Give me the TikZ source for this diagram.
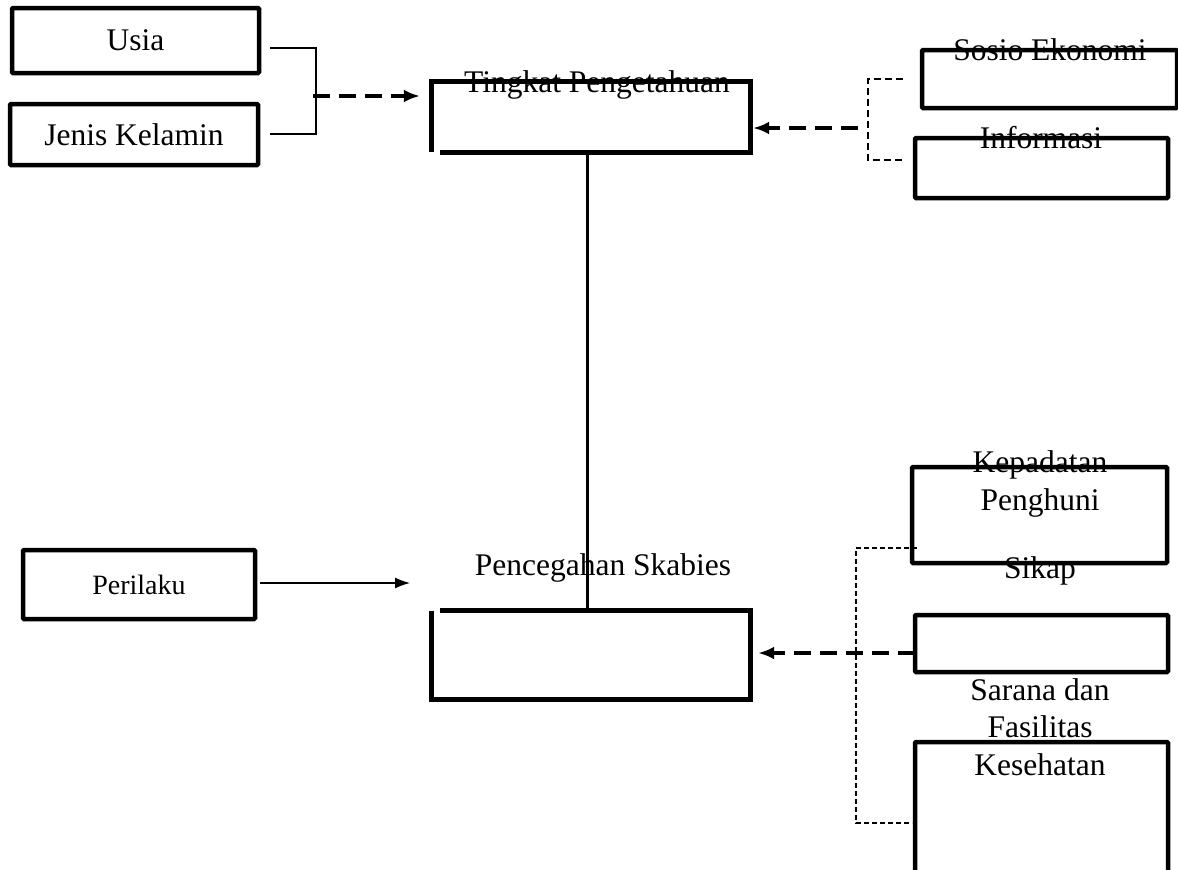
\documentclass[tikz,border=0pt]{standalone}
\usepackage{fontspec}
\setmainfont{Liberation Serif}
\usetikzlibrary{arrows.meta}
\tikzset{
  factor box/.style={draw, line width=4.5pt, rounded corners=1pt, inner sep=0pt},
  open box/.style={line width=5pt},
  label text/.style={anchor=base, inner sep=0pt, align=center,
    font=\fontsize{31.5}{37.5}\selectfont},
  brace line/.style={line width=1.4pt},
  brace dash/.style={line width=1.3pt, dash pattern=on 7pt off 4pt},
  link dash/.style={line width=3.5pt, dash pattern=on 17pt off 9pt,
    -{Latex[length=16pt,width=13pt]}},
  link solid/.style={line width=1.4pt, -{Latex[length=15pt,width=11pt]}}
}

\begin{document}
\begin{tikzpicture}[x=1pt, y=-1pt, line join=miter]
  \useasboundingbox (0,0) rectangle (1178,870);

  % Left factors of Tingkat Pengetahuan
  \node[factor box, minimum width=247pt, minimum height=65pt,
        font=\fontsize{31.5}{37.5}\selectfont] (usia) at (135.5,40.5) {Usia};
  \node[factor box, minimum width=248pt, minimum height=61pt,
        font=\fontsize{31.5}{37.5}\selectfont] (jenis) at (134,134.5) {Jenis Kelamin};

  % Tingkat Pengetahuan (open corner at bottom left)
  \node[minimum width=318pt, minimum height=70pt, inner sep=0pt] (tingkat) at (591,117) {};
  \draw[open box] (tingkat.south west) -- (tingkat.north west) -- (tingkat.north east)
    -- (tingkat.south east) -- ([xshift=8pt]tingkat.south west);
  \node[label text] (tingkatText) at (597,92) {Tingkat Pengetahuan};

  % Right factors of Tingkat Pengetahuan
  \node[factor box, minimum width=255pt, minimum height=58pt] (sosio) at (1049.5,79) {};
  \node[label text] (sosioText) at (1050,60) {Sosio Ekonomi};
  \node[factor box, minimum width=253pt, minimum height=60pt] (info) at (1041.5,168) {};
  \node[label text] (infoText) at (1041,148) {Informasi};

  % Perilaku
  \node[factor box, minimum width=232pt, minimum height=69pt,
        font=\fontsize{28}{33}\selectfont] (perilaku) at (139,584.5) {Perilaku};

  % Pencegahan Skabies (open corner at top left)
  \node[minimum width=318pt, minimum height=88pt, inner sep=0pt] (cegah) at (591,655) {};
  \draw[open box] ([xshift=8pt]cegah.north west) -- (cegah.north east) -- (cegah.south east)
    -- (cegah.south west) -- (cegah.north west);
  \node[label text] (cegahText) at (603,575) {Pencegahan Skabies};

  % Right factors of Pencegahan Skabies
  \node[factor box, minimum width=255pt, minimum height=96pt] (padat) at (1039.5,515) {};
  \node[label text] (padatText) at (1040,510) {Kepadatan\\Penghuni};
  \node[factor box, minimum width=253pt, minimum height=57pt] (sikap) at (1041.5,643.5) {};
  \node[label text] (sikapText) at (1040,578) {Sikap};
  \node[factor box, minimum width=253pt, minimum height=170pt] (sarana) at (1041.5,827) {};
  \node[label text] (saranaText) at (1040,775) {Sarana dan\\Fasilitas\\Kesehatan};

  % Brackets
  \coordinate (usiaEnd) at (270,48);
  \coordinate (jenisEnd) at (270,134);
  \coordinate (leftJoin) at (313,96);
  \draw[brace line] (usiaEnd) -- (316,48) -- (316,134) -- (jenisEnd);

  \coordinate (sosioEnd) at (903,79);
  \coordinate (infoEnd) at (903,160);
  \coordinate (rightJoin) at (858,128);
  \draw[brace dash] (sosioEnd) -- (868,79) -- (868,160) -- (infoEnd);

  \coordinate (padatEnd) at (917,548);
  \coordinate (saranaEnd) at (912,823);
  \coordinate (lowJoin) at (915,653);
  \draw[brace dash, dash pattern=on 5pt off 3pt, line width=1.2pt]
    (padatEnd) -- (856,548) -- (856,823) -- (saranaEnd);

  % Arrows
  \coordinate (perilakuEnd) at (260,583);
  \coordinate (cegahIn) at (410,583);
  \draw[link dash] (leftJoin) -- ([xshift=-12pt]tingkat.west |- leftJoin);
  \draw[link dash] (rightJoin) -- ([xshift=3pt]tingkat.east |- rightJoin);
  \draw[link solid] (perilakuEnd) -- (cegahIn);
  \draw[link dash] (lowJoin) -- ([xshift=8pt]cegah.east |- lowJoin);

  % Tingkat Pengetahuan to Pencegahan Skabies
  \draw[line width=3pt] ([xshift=-4pt]tingkat.south) -- ([xshift=-4pt]cegah.north);
\end{tikzpicture}
\end{document}
